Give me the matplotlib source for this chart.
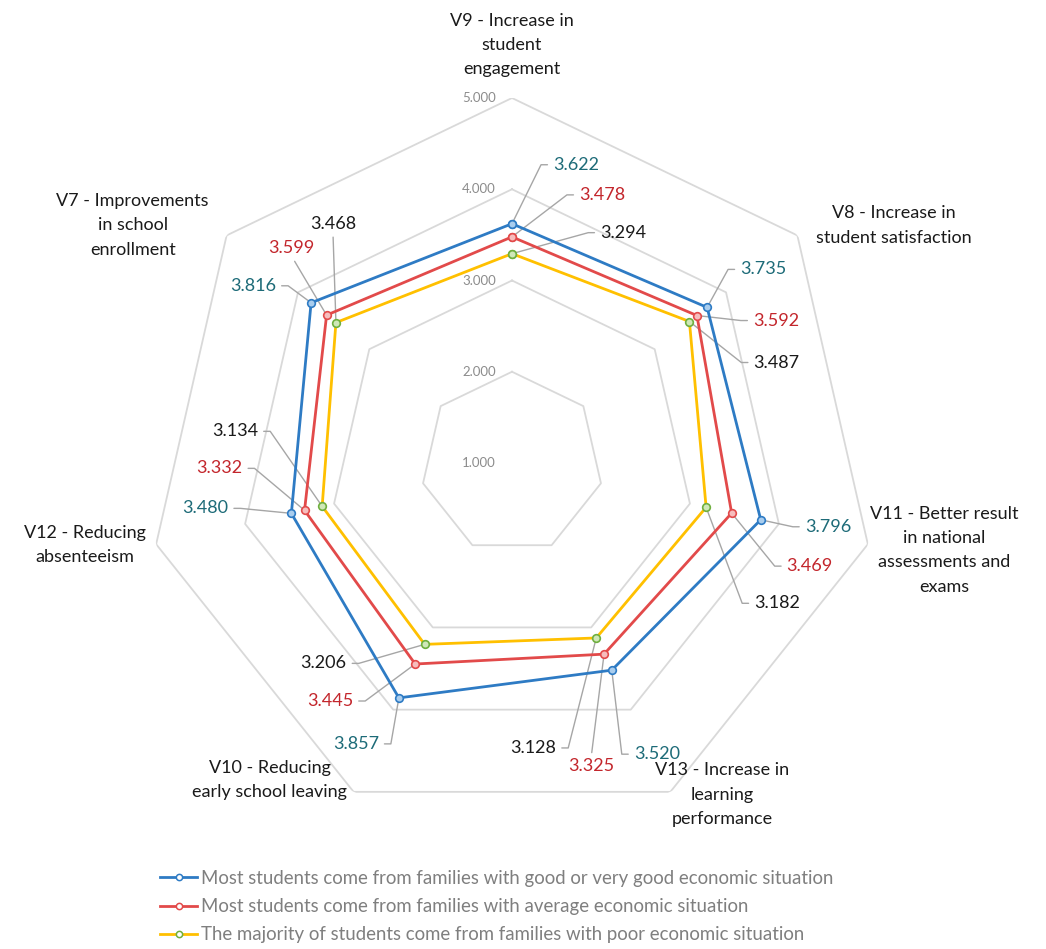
import numpy as np
import matplotlib.pyplot as plt
from matplotlib.lines import Line2D

plt.rcParams['font.family'] = ['Lato', 'DejaVu Sans']

categories = ['V9 - Increase in\nstudent\nengagement',
              'V8 - Increase in\nstudent satisfaction',
              'V11 - Better result\nin national\nassessments and\nexams',
              'V13 - Increase in\nlearning\nperformance',
              'V10 - Reducing\nearly school leaving',
              'V12 - Reducing\nabsenteeism',
              'V7 - Improvements\nin school\nenrollment']
good = [3.622, 3.735, 3.796, 3.520, 3.857, 3.480, 3.816]
average = [3.478, 3.592, 3.469, 3.325, 3.445, 3.332, 3.599]
poor = [3.294, 3.487, 3.182, 3.128, 3.206, 3.134, 3.468]
names = ['Most students come from families with good or very good economic situation',
         'Most students come from families with average economic situation',
         'The majority of students come from families with poor economic situation']
rings = [1, 2, 3, 4, 5]

# series styles: line colour, marker edge, marker face, label colour
styles = [('#2E7BC4', '#2E7BC4', '#A9CDEE', '#1D6B78'),
          ('#E24A4A', '#E24A4A', '#F6BDBD', '#C3262C'),
          ('#FFC000', '#6FAF3F', '#CFE8B8', '#1A1A1A')]

# label placement: elbow offset from point in pixels (dx, dy up) and side
offs_good = [(29, 59, 'r'), (21, 38, 'r'), (32, -7, 'r'), (10, -84, 'r'),
             (-8, -46, 'l'), (-51, 5, 'l'), (-23, 17, 'l')]
offs_avg = [(55, 42, 'r'), (44, -5, 'r'), (43, -53, 'r'), (-13, -100, 'b'),
            (-50, -37, 'l'), (-50, 42, 'l'), (-35, 55, 't')]
offs_poor = [(76, 21, 'r'), (52, -41, 'r'), (36, -96, 'r'), (-28, -110, 'l'),
             (-66, -19, 'l'), (-52, 75, 'l'), (-3, 87, 't')]
cat_offs = [(0, 53), (96, 10), (76, -6), (52, -3), (-84, 12), (-71, -1), (-94, 10)]

W, H = 1046, 949
fig = plt.figure(figsize=(W / 100, H / 100), dpi=100)
cx, cy, R = 512, 463, 365
ax = fig.add_axes([(cx - R) / W, (H - cy - R) / H, 2 * R / W, 2 * R / H],
                  projection='polar')
ax.set_theta_zero_location('N')
ax.set_theta_direction(-1)
ax.set_ylim(1, 5)
ax.grid(False)
ax.set_xticks([])
ax.set_yticks([])
ax.spines['polar'].set_visible(False)
ax.patch.set_alpha(0)

n = len(categories)
theta = np.arange(n) * 2 * np.pi / n
th_c = np.append(theta, theta[0])

for r in rings[1:]:
    ax.plot(th_c, [r] * (n + 1), color='#D9D9D9', lw=1.3, zorder=1)
for r in rings:
    ax.annotate(f'{r:.3f}', (0, r), xytext=(-16, 0), textcoords='offset pixels',
                ha='right', va='center', fontsize=9.5, color='#8C8C8C')

for k, (lab, (dx, dy)) in enumerate(zip(categories, cat_offs)):
    ax.annotate(lab, (theta[k], 5), xytext=(dx, dy), textcoords='offset pixels',
                ha='center', va='center', fontsize=13, color='#1A1A1A',
                linespacing=1.65, annotation_clip=False)

handles = []
for vals, (lc, mec, mfc, tc), offs in zip([good, average, poor], styles,
                                          [offs_good, offs_avg, offs_poor]):
    ax.plot(th_c, vals + vals[:1], color=lc, lw=2.0, zorder=4,
            marker='o', ms=5.5, mec=mec, mfc=mfc, mew=1.2)
    handles.append(Line2D([], [], color=lc, lw=2.0, marker='o', ms=4.5,
                          mec=mec, mfc='white', mew=1.1))
    for th, v, (dx, dy, side) in zip(theta, vals, offs):
        ang = np.degrees(np.arctan2(dy, dx))
        gap = 12
        if side == 'r':
            xt, ha, va, rel = (dx + gap, dy), 'left', 'center', (0, 0.5)
            cs = f'angle,angleA=0,angleB={ang:.1f},rad=0'
        elif side == 'l':
            xt, ha, va, rel = (dx - gap, dy), 'right', 'center', (1, 0.5)
            cs = f'angle,angleA=0,angleB={ang:.1f},rad=0'
        elif side == 't':
            xt, ha, va, rel = (dx, dy + 4), 'center', 'bottom', (0.5, 0)
            cs = 'arc3,rad=0'
        else:
            xt, ha, va, rel = (dx, dy - 4), 'center', 'top', (0.5, 1)
            cs = 'arc3,rad=0'
        ax.annotate(f'{v:.3f}', (th, v), xytext=xt, textcoords='offset pixels',
                    ha=ha, va=va, fontsize=13, color=tc, zorder=3,
                    arrowprops=dict(arrowstyle='-', color='#A6A6A6', lw=1,
                                    connectionstyle=cs, relpos=rel,
                                    shrinkA=2, shrinkB=0))

fig.legend(handles, names, loc='upper left', bbox_to_anchor=(160 / W, 1 - 870 / H),
           frameon=False, fontsize=13.4, labelcolor='#7F7F7F', handlelength=2.0,
           handletextpad=0.2, labelspacing=0.6, borderaxespad=0, borderpad=0)

fig.savefig('out.png', dpi=100)
